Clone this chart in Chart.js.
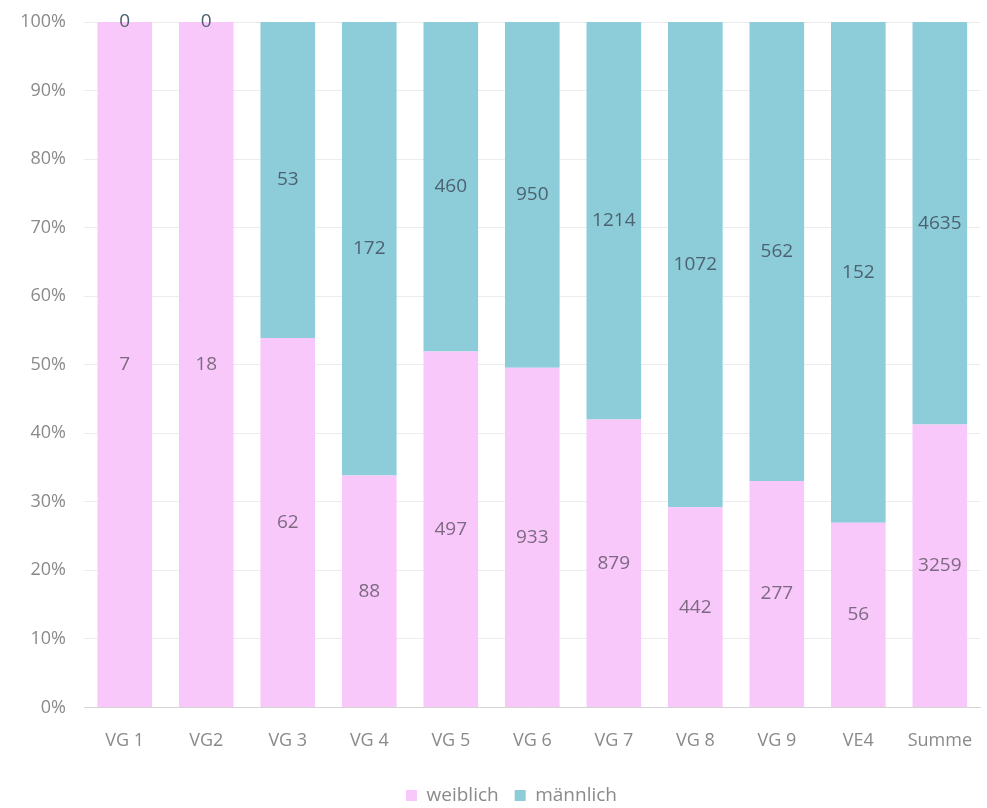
<!DOCTYPE html>
<html>
<head>
<meta charset="utf-8">
<script src="https://cdn.jsdelivr.net/npm/chart.js@4"></script>
<style>
  html, body { margin: 0; padding: 0; background: #fff; }
  #wrap { width: 987px; height: 808px; }
</style>
</head>
<body>
<div id="wrap"><canvas id="barChart"></canvas></div>
<script>
// Categories and counts
const categories = ['VG 1', 'VG2', 'VG 3', 'VG 4', 'VG 5', 'VG 6', 'VG 7', 'VG 8', 'VG 9', 'VE4', 'Summe'];
const weiblich = [7, 18, 62, 88, 497, 933, 879, 442, 277, 56, 3259];
const maennlich = [0, 0, 53, 172, 460, 950, 1214, 1072, 562, 152, 4635];
const yTicks = [0, 10, 20, 30, 40, 50, 60, 70, 80, 90, 100];

// share of each group per category (100% stacked)
const share = (arr) => arr.map((v, i) => v / (weiblich[i] + maennlich[i]) * 100);

const pink = '#f9c8fa';
const teal = '#8dcdd9';

// draws the raw count in the middle of each bar segment
const countLabels = {
    id: 'countLabels',
    afterDatasetsDraw(chart) {
        const ctx = chart.ctx;
        ctx.save();
        ctx.font = '19px "Open Sans"';
        ctx.textAlign = 'center';
        ctx.textBaseline = 'middle';
        chart.data.datasets.forEach((ds, di) => {
            const meta = chart.getDatasetMeta(di);
            meta.data.forEach((bar, i) => {
                const y = (bar.y + bar.base) / 2;
                ctx.fillStyle = di === 0 ? '#7d6a82' : '#4d6270';
                ctx.fillText(ds.counts[i], bar.x, y);
            });
        });
        ctx.restore();
    }
};

// nudge the legend a little, like the original (slightly lower and right of centre)
const legendNudge = {
    id: 'legendNudge',
    afterLayout(chart) {
        const lg = chart.legend;
        if (lg) {
            lg.top += 7;
            lg.bottom += 7;
            lg.left += 18;
            lg.right += 18;
        }
    }
};

const barChartData = {
    labels: categories,
    datasets: [{
        label: 'weiblich',
        data: share(weiblich),
        counts: weiblich,
        backgroundColor: pink,
        barPercentage: 0.67,
        categoryPercentage: 1
    }, {
        label: 'männlich',
        data: share(maennlich),
        counts: maennlich,
        backgroundColor: teal,
        barPercentage: 0.67,
        categoryPercentage: 1
    }]
};

const barChartConfig = {
    type: 'bar',
    data: barChartData,
    plugins: [countLabels, legendNudge],
    options: {
        responsive: true,
        maintainAspectRatio: false,
        animation: false,
        layout: { padding: { top: 22, right: 0, left: 0, bottom: 0 } },
        scales: {
            x: {
                stacked: true,
                grid: { display: false },
                border: { color: '#d4d4d4' },
                afterFit: (scale) => { scale.height -= 4; },
                ticks: {
                    color: '#8a8a8a',
                    font: { family: 'Open Sans', size: 18 },
                    padding: 15
                }
            },
            y: {
                stacked: true,
                min: 0,
                max: 100,
                afterFit: (scale) => {
                    scale.width = 84;
                    scale.paddingTop = 0;
                    scale.paddingBottom = 0;
                },
                afterBuildTicks: (scale) => { scale.ticks = yTicks.map(v => ({ value: v })); },
                grid: { color: '#ececec', drawTicks: false },
                border: { display: false },
                ticks: {
                    color: '#8a8a8a',
                    font: { family: 'Open Sans', size: 18 },
                    padding: 18,
                    callback: (v) => v + '%'
                }
            }
        },
        plugins: {
            legend: {
                position: 'bottom',
                labels: {
                    boxWidth: 11,
                    boxHeight: 11,
                    color: '#8a8a8a',
                    font: { family: 'Open Sans', size: 19 },
                    padding: 16
                }
            },
            tooltip: { enabled: false }
        }
    }
};

new Chart(document.getElementById('barChart'), barChartConfig);
</script>
</body>
</html>
